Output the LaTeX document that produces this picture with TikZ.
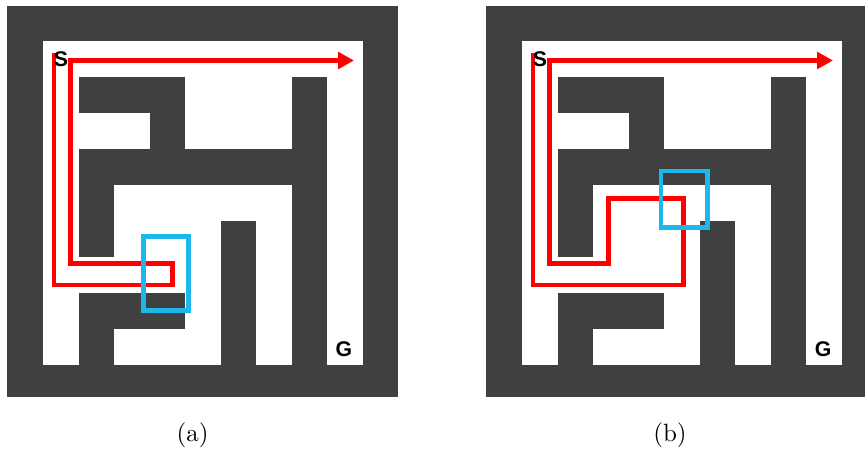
\documentclass[tikz,border=0pt]{standalone}
\usepackage{fontspec}
\usetikzlibrary{arrows.meta}
\newfontfamily\mazefont{Liberation Sans}
\definecolor{wallgray}{RGB}{64,64,64}
\definecolor{routered}{RGB}{255,0,0}
\definecolor{boxblue}{RGB}{29,183,236}
\tikzset{
  wall/.style={fill=wallgray},
  route/.style={draw=routered,line width=1.8pt,-{Triangle[length=6.4pt,width=6.6pt]}},
  focus/.style={draw=boxblue,line width=1.7pt},
  tag/.style={font=\mazefont\bfseries\fontsize{8.5}{10}\selectfont,inner sep=0pt}
}
\begin{document}
\begin{tikzpicture}[x=0.4pt,y=-0.4pt]
				\useasboundingbox (0,0) rectangle (865,450);
				\clip (0,0) rectangle (865,450);
				% the two mazes
				\foreach \ox in {0,479} {
					\fill[wall] (\ox+7,6) rectangle (\ox+398,397);
					\fill[white] (\ox+43,41) rectangle (\ox+363,365);
					\begin{scope}[shift={(\ox+43,41)},x=14.22pt,y=-14.4pt]
						\foreach \a/\b/\c/\d in {1/1/4/2,3/2/4/3,1/3/8/4,7/1/8/9,1/3/2/6,5/5/6/9,1/7/4/8,1/7/2/9}
							\fill[wall] (\a,\b) rectangle (\c,\d);
					\end{scope}
				}
				% route (a)
				\coordinate (A1) at (54,53);
				\coordinate (A2) at (54,285);
				\coordinate (A3) at (172.5,285);
				\coordinate (A4) at (172.5,263.5);
				\coordinate (A5) at (70.5,263.5);
				\coordinate (A6) at (70.5,60.5);
				\coordinate (A7) at (354,60.5);
				\draw[route] (A1)--(A2)--(A3)--(A4)--(A5)--(A6)--(A7);
				% route (b)
				\coordinate (B1) at (533,53);
				\coordinate (B2) at (533,285);
				\coordinate (B3) at (683.5,285);
				\coordinate (B4) at (683.5,198.5);
				\coordinate (B5) at (608.5,198.5);
				\coordinate (B6) at (608.5,263.5);
				\coordinate (B7) at (549.5,263.5);
				\coordinate (B8) at (549.5,60.5);
				\coordinate (B9) at (833,60.5);
				\draw[route] (B1)--(B2)--(B3)--(B4)--(B5)--(B6)--(B7)--(B8)--(B9);
				% blue boxes
				\coordinate (AboxTL) at (143.5,236.5);
				\coordinate (AboxBR) at (188.5,310.5);
				\coordinate (BboxTL) at (661,171);
				\coordinate (BboxBR) at (707.5,227.5);
				\draw[focus] (AboxTL) rectangle (AboxBR);
				\draw[focus] (BboxTL) rectangle (BboxBR);
				% start and goal
				\node[tag] (Sa) at (61,59) {S};
				\node[tag] (Ga) at (344,349.5) {G};
				\node[tag] (Sb) at (540,59) {S};
				\node[tag] (Gb) at (823,349.5) {G};
				\node (capA) at (192.5,435) {(a)};
				\node (capB) at (670,435) {(b)};
			\end{tikzpicture}
\end{document}
